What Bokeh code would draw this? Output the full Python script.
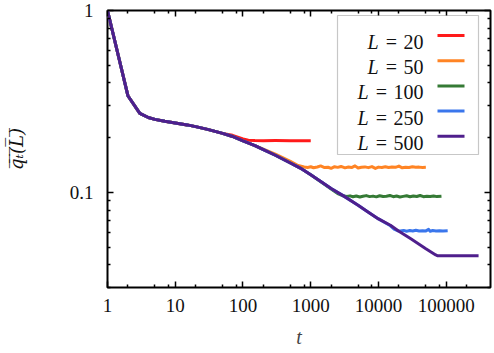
from bokeh.plotting import figure
from bokeh.models import LogAxis, FixedTicker, Label, BoxAnnotation, Range1d
from bokeh.embed import file_html
from bokeh.resources import INLINE

# ---- data -------------------------------------------------------------
sizes = [20, 50, 100, 250, 500]
colors = ["#ff1a1a", "#ff8424", "#357a35", "#3a76ec", "#4f1f8c"]

# common (large-L) decay curve
master_t = [1, 2, 3, 4, 5, 7, 10, 15, 20, 30, 50, 70, 100, 150, 200, 300,
            500, 700, 1000, 1500, 2000, 3000, 5000, 7000, 10000, 15000,
            20000, 30000, 50000, 70000]
master_q = [1.0, 0.34, 0.272, 0.258, 0.252, 0.246, 0.241, 0.235, 0.230,
            0.222, 0.211, 0.203, 0.192, 0.181, 0.172, 0.160, 0.145, 0.136,
            0.125, 0.113, 0.105, 0.096, 0.085, 0.078, 0.0715, 0.066, 0.0612,
            0.0556, 0.049, 0.0453]

# time at which each finite-L curve leaves the common curve
branch_t = {20: 60, 50: 200, 100: 1500, 250: 12000, 500: 1e9}

tail_t_20 = [70, 100, 120, 150, 200, 300, 500, 700, 1000]
tail_q_20 = [0.206, 0.1965, 0.1935, 0.1928, 0.1925, 0.1926, 0.1924, 0.1925,
             0.1925]

tail_t_50 = [300, 500, 650, 800, 900, 1000, 1100, 1250, 1400, 1600, 1800,
             2000, 2250, 2500, 2800, 3200, 3600, 4000, 4500, 5000, 5600, 6300,
             7100, 8000, 9000, 10000, 11200, 12600, 14100, 15800, 17800,
             20000, 22400, 25100, 28200, 31600, 35500, 39800, 44700, 50000]
tail_q_50 = [0.1625, 0.1482, 0.1405, 0.1378, 0.1371, 0.1383, 0.1366, 0.1380,
             0.1398, 0.1369, 0.1375, 0.1356, 0.1384, 0.1373, 0.1389, 0.1364,
             0.1378, 0.1370, 0.1399, 0.1362, 0.1376, 0.1381, 0.1368, 0.1386,
             0.1355, 0.1377, 0.1372, 0.1383, 0.1369, 0.1379, 0.1374, 0.1395,
             0.1365, 0.1376, 0.1371, 0.1382, 0.1373, 0.1377, 0.1372, 0.1375]

tail_t_100 = [2000, 2500, 3000, 3400, 3800, 4200, 4700, 5300, 5900, 6600,
              7400, 8300, 9300, 10400, 11700, 13100, 14700, 16500, 18500,
              20700, 23200, 26000, 29200, 32700, 36700, 41100, 46100, 51700,
              58000, 65000, 72900, 85000]
tail_q_100 = [0.1045, 0.0985, 0.0958, 0.0950, 0.0957, 0.0946, 0.0955, 0.0943,
              0.0952, 0.0960, 0.0948, 0.0954, 0.0945, 0.0958, 0.0949, 0.0953,
              0.0962, 0.0947, 0.0955, 0.0944, 0.0951, 0.0958, 0.0946, 0.0956,
              0.0949, 0.0961, 0.0947, 0.0953, 0.0950, 0.0956, 0.0948, 0.0952]

tail_t_250 = [15000, 17000, 19000, 21000, 23500, 26000, 29000, 32000, 35500,
              39800, 44700, 50100, 55000, 58000, 63100, 70800, 79400, 89100,
              105000]
tail_q_250 = [0.0655, 0.0628, 0.0616, 0.0613, 0.0618, 0.0612, 0.0617, 0.0614,
              0.0619, 0.0613, 0.0616, 0.0614, 0.0626, 0.0612, 0.0617, 0.0614,
              0.0616, 0.0613, 0.0615]

tail_t_500 = [75000, 100000, 150000, 200000, 300000]
tail_q_500 = [0.0448, 0.0448, 0.0448, 0.0448, 0.0448]

tails = {20: (tail_t_20, tail_q_20), 50: (tail_t_50, tail_q_50),
         100: (tail_t_100, tail_q_100), 250: (tail_t_250, tail_q_250),
         500: (tail_t_500, tail_q_500)}

x_major = [1, 10, 100, 1000, 10000, 100000]
y_major = [0.1, 1]

# ---- styling ----------------------------------------------------------
SERIF = "Liberation Serif"
TICK_FS = "19px"
LEG_FS = 20

FRAME_L, FRAME_T, FRAME_B = 107, 10, 66
W, H = 494, 353

p = figure(width=W, height=H, x_axis_type="log", y_axis_type="log",
           x_range=Range1d(1, 4.5e5), y_range=Range1d(0.03, 1),
           output_backend="svg", toolbar_location=None,
           min_border_left=FRAME_L, min_border_right=4,
           min_border_top=FRAME_T, min_border_bottom=FRAME_B)
p.background_fill_color = "white"
p.border_fill_color = "white"
p.outline_line_color = "black"
p.outline_line_width = 2
p.grid.visible = False

x_minor = [m * 10 ** k for k in range(0, 6) for m in (2, 5, 8)]
y_minor = [m * 10.0 ** k for k in (-2, -1) for m in range(2, 10)]


def style_axis(ax, labels):
    ax.axis_line_color = None
    ax.major_tick_in = 6
    ax.major_tick_out = 0
    ax.minor_tick_in = 3
    ax.minor_tick_out = 0
    ax.major_tick_line_color = "black"
    ax.minor_tick_line_color = "black"
    ax.major_tick_line_width = 1.5
    ax.minor_tick_line_width = 1.5
    if labels:
        ax.major_label_text_font = SERIF
        ax.major_label_text_font_size = TICK_FS
        ax.major_label_text_color = "#111111"
    else:
        ax.major_label_text_font_size = "1px"
        ax.major_label_text_alpha = 0
        ax.major_label_standoff = 0


p.xaxis.ticker = FixedTicker(ticks=x_major, minor_ticks=x_minor)
p.yaxis.ticker = FixedTicker(ticks=y_major, minor_ticks=y_minor)
p.xaxis.major_label_overrides = {v: f"{v:g}" for v in x_major}
p.yaxis.major_label_overrides = {v: f"{v:g}" for v in y_major}
style_axis(p.xaxis[0], True)
style_axis(p.yaxis[0], True)
p.yaxis.major_label_standoff = 14
p.xaxis.major_label_standoff = 11

p.xaxis.axis_label = "t"
p.xaxis.axis_label_text_font = SERIF
p.xaxis.axis_label_text_font_style = "italic"
p.xaxis.axis_label_text_font_size = "20px"
p.xaxis.axis_label_standoff = 11

# overlined q_t(L), drawn with combining overline marks
p.yaxis.axis_label = "q\u0305\u209c\u0305(\u0305L\u0305)\u0305"
p.yaxis.axis_label_text_font = "DejaVu Serif"
p.yaxis.axis_label_text_font_style = "italic"
p.yaxis.axis_label_text_font_size = "18px"
p.yaxis.axis_label_text_color = "#111111"
p.yaxis.axis_label_standoff = 40

top_ax = LogAxis(ticker=FixedTicker(ticks=x_major, minor_ticks=x_minor))
right_ax = LogAxis(ticker=FixedTicker(ticks=y_major, minor_ticks=y_minor))
style_axis(top_ax, False)
style_axis(right_ax, False)
p.add_layout(top_ax, "above")
p.add_layout(right_ax, "right")

# ---- curves -----------------------------------------------------------
for L, c in zip(sizes, colors):
    bt = branch_t[L]
    t = [x for x in master_t if x < bt]
    q = [y for x, y in zip(master_t, master_q) if x < bt]
    tt, tq = tails[L]
    p.line(t + tt, q + tq, line_color=c, line_width=3, line_join="round")


def screen_box(left, right, bottom, top, **kw):
    return BoxAnnotation(left=left, right=right, bottom=bottom, top=top,
                         left_units="screen", right_units="screen",
                         bottom_units="screen", top_units="screen", **kw)


# ---- legend -----------------------------------------------------------
p.add_layout(screen_box(230, 371, 133, 272, fill_color="white", fill_alpha=1,
                        line_color="#444444", line_width=1.2))
for i, (L, c) in enumerate(zip(sizes, colors)):
    yc = 252 - 25.2 * i
    n = len(str(L))
    p.add_layout(screen_box(330, 357, yc - 1.5, yc + 1.5, fill_color=c,
                            fill_alpha=1, line_color=None))
    base = yc - 6.5
    p.add_layout(Label(x=316, y=base, x_units="screen", y_units="screen",
                       text=str(L), text_align="right",
                       text_baseline="alphabetic", text_font=SERIF,
                       text_font_size=f"{LEG_FS}px", text_color="#111111"))
    p.add_layout(Label(x=316 - 10 * n - 12, y=base, x_units="screen",
                       y_units="screen", text="=", text_align="center",
                       text_baseline="alphabetic", text_font=SERIF,
                       text_font_size=f"{LEG_FS}px", text_color="#111111"))
    p.add_layout(Label(x=316 - 10 * n - 25, y=base, x_units="screen",
                       y_units="screen", text="L", text_align="right",
                       text_baseline="alphabetic", text_font=SERIF,
                       text_font_style="italic",
                       text_font_size=f"{LEG_FS}px", text_color="#111111"))

open("out.html", "w").write(file_html(p, INLINE))
